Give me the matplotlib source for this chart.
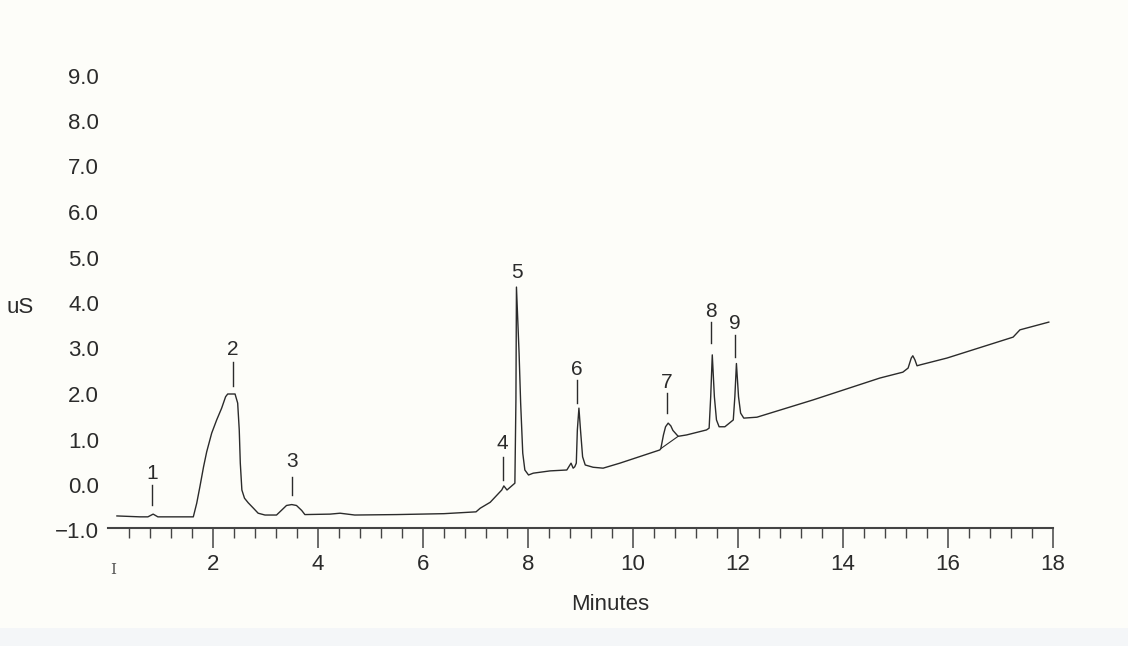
import matplotlib
matplotlib.use("Agg")
import matplotlib.pyplot as plt
from matplotlib.ticker import FixedLocator
from matplotlib.patches import Rectangle

# ---- data ----
time_min = [0.17, 0.61, 0.76, 0.86, 0.95, 1.625, 1.69, 1.75, 1.82, 1.88, 1.975, 2.07,
            2.165, 2.24, 2.28, 2.42, 2.47, 2.50, 2.52, 2.55, 2.60, 2.67, 2.77, 2.86,
            2.99, 3.21, 3.31, 3.40, 3.50, 3.59, 3.69, 3.75, 4.23, 4.42, 4.70, 5.50,
            6.40, 7.01, 7.09, 7.28, 7.50, 7.54, 7.60, 7.75, 7.77, 7.78, 7.83, 7.86,
            7.90, 7.94, 8.01, 8.10, 8.42, 8.74, 8.82, 8.86, 8.89, 8.92, 8.94, 8.97,
            9.00, 9.04, 9.09, 9.24, 9.43, 9.75, 10.51, 10.53, 10.58, 10.62, 10.67,
            10.72, 10.76, 10.86, 11.02, 11.40, 11.45, 11.48, 11.51, 11.55, 11.59,
            11.64, 11.75, 11.91, 11.94, 11.97, 12.01, 12.05, 12.11, 12.36, 13.43,
            14.70, 15.14, 15.24, 15.30, 15.33, 15.37, 15.41, 15.47, 15.98, 17.24,
            17.37, 17.92]
signal_us = [-0.68, -0.70, -0.70, -0.64, -0.70, -0.70, -0.40, -0.04, 0.40, 0.73, 1.14, 1.43,
             1.69, 1.94, 2.00, 2.00, 1.80, 1.21, 0.48, -0.11, -0.29, -0.39, -0.51, -0.62,
             -0.66, -0.66, -0.55, -0.45, -0.43, -0.45, -0.56, -0.65, -0.64, -0.62, -0.66, -0.65,
             -0.63, -0.59, -0.51, -0.38, -0.11, -0.02, -0.11, 0.04, 1.87, 4.35, 2.90, 1.80,
             0.70, 0.33, 0.22, 0.26, 0.31, 0.33, 0.48, 0.37, 0.40, 0.48, 1.21, 1.69,
             1.21, 0.62, 0.44, 0.39, 0.37, 0.48, 0.77, 0.80, 1.10, 1.28, 1.36,
             1.30, 1.20, 1.07, 1.10, 1.21, 1.25, 1.94, 2.86, 1.94, 1.43,
             1.28, 1.28, 1.43, 1.94, 2.67, 1.94, 1.58, 1.47, 1.49, 1.87,
             2.35, 2.48, 2.57, 2.79, 2.84, 2.75, 2.62, 2.64, 2.79, 3.25,
             3.41, 3.58]

# integration baseline under peak 7
base7_t = [10.53, 10.86]
base7_v = [0.80, 1.07]

peak_ids = ["1", "2", "3", "4", "5", "6", "7", "8", "9"]
peak_label_t = [0.84, 2.38, 3.50, 7.52, 7.79, 8.93, 10.65, 11.49, 11.94]
peak_label_v = [0.26, 2.97, 0.51, 0.92, 4.66, 2.53, 2.26, 3.82, 3.56]
marker_top = [0.00, 2.70, 0.18, 0.62, None, 2.31, 2.02, 3.58, 3.30]
marker_bot = [-0.44, 2.18, -0.22, 0.11, None, 1.80, 1.58, 3.12, 2.81]

y_ticks = [-1.0, 0.0, 1.0, 2.0, 3.0, 4.0, 5.0, 6.0, 7.0, 8.0, 9.0]
x_ticks = [2, 4, 6, 8, 10, 12, 14, 16, 18]

# ---- figure ----
W, H = 1128, 646
fig = plt.figure(figsize=(W / 100, H / 100), dpi=100, facecolor="#fdfdf9")
fig.patches.append(Rectangle((0, 0), 1, (H - 628) / H, transform=fig.transFigure,
                             facecolor="#f4f6f8", edgecolor="none", zorder=0))

left, right, top, bottom = 102, 1070, 50, 545
ax = fig.add_axes([left / W, (H - bottom) / H, (right - left) / W, (bottom - top) / H])
ax.set_facecolor("none")

x0, px_per_min = 108, 52.5
y0, px_per_us = 485, 45.5
ax.set_xlim((left - x0) / px_per_min, (right - x0) / px_per_min)
ax.set_ylim((y0 - bottom) / px_per_us, (y0 - top) / px_per_us)

ink = "#2b2b2b"
font = "Liberation Sans"

ax.plot(time_min, signal_us, color=ink, lw=1.0, solid_joinstyle="round")
ax.plot(base7_t, base7_v, color=ink, lw=0.8)

for pid, lt, lv, mt, mb in zip(peak_ids, peak_label_t, peak_label_v, marker_top, marker_bot):
    ax.text(lt, lv, pid, ha="center", va="center", fontsize=15, color=ink, family=font)
    if mt is not None:
        ax.plot([lt, lt], [mb, mt], color=ink, lw=1.0)

for s in ["top", "right", "left"]:
    ax.spines[s].set_visible(False)
ax.spines["bottom"].set_position(("data", -0.95))
ax.spines["bottom"].set_bounds(0.0, 18.0)
ax.spines["bottom"].set_linewidth(1.5)
ax.spines["bottom"].set_color("#444444")

minor_ticks = [round(0.4 * i, 1) for i in range(1, 45) if i % 5]
ax.xaxis.set_major_locator(FixedLocator(x_ticks))
ax.xaxis.set_minor_locator(FixedLocator(minor_ticks))
ax.set_xticklabels([str(v) for v in x_ticks])
ax.tick_params(axis="x", which="major", direction="out", length=14.4, width=1.1,
               color="#444444", pad=4, labelsize=16, labelcolor=ink)
ax.tick_params(axis="x", which="minor", direction="out", length=7.2, width=1.0,
               color="#444444")

ax.set_yticks(y_ticks)
ax.set_yticklabels([f"{v:.1f}".replace("-", "\u2212") for v in y_ticks])
ax.tick_params(axis="y", length=0, pad=2, labelsize=16, labelcolor=ink)

for lbl in ax.get_xticklabels() + ax.get_yticklabels():
    lbl.set_family(font)

# garbled "0" label at the origin of the scan
fig.text(113 / W, 1 - 570 / H, "I", ha="center", va="center", fontsize=11,
         color="#555555", family="DejaVu Serif")

fig.text(20 / W, 1 - 308 / H, "uS", ha="center", va="center", fontsize=16,
         color=ink, family=font)
fig.text(610 / W, 1 - 605 / H, "Minutes", ha="center", va="center", fontsize=16,
         color=ink, family=font)

fig.savefig("out.png", dpi=100, facecolor=fig.get_facecolor())
